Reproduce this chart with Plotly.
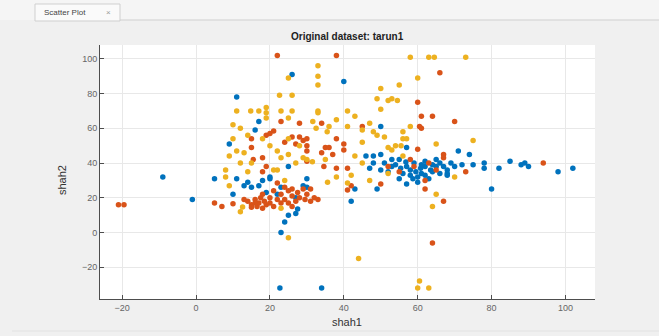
import plotly.graph_objects as go

# ---------------- data ----------------
blue_x = [-9, -1, 5, 11, 13, 17, 20, 25, 30, 30, 15, 10, 23, 20, 11, 26, 40, 9, 17, 16,
          27.5, 27, 25, 24, 23, 22.7, 34, 42, 43, 50, 57, 71, 74, 46, 48, 50, 48, 49, 80, 98,
          102, 88, 89, 90, 85, 82, 78, 78, 75, 72, 70, 67, 65, 54, 55.4, 56.8, 58, 59.5, 60.8, 62,
          63.5, 65, 58.7, 55, 52, 53, 29, 57, 59, 61, 62, 63, 64, 66, 68, 60, 61, 56, 53, 51,
          47, 58, 62, 64, 66, 60, 57, 68, 69, 55, 50, 22, 19, 27, 14, 18, 68]
blue_y = [32, 19, 31, 31, 27, 27, 31, 38, 31, 26, 26, 22, 26, 32, 78, 91, 87, 51, 64, 59,
          13.5, 11, 10, 6, 0, -32, -32, 18, 25, 61, 49, 47, 45, 44, 44, 45, 40, 25, 25, 35,
          37, 39, 40, 38, 41, 37, 40, 37, 39, 39, 38, 38, 42, 39, 37, 40.6, 36, 35, 37, 33,
          36, 38, 31, 31, 35, 42, 27, 38, 40, 34, 38, 31, 35, 34, 36, 32, 39, 34, 38, 40,
          37, 33, 41, 39, 40, 29, 28, 33, 40, 42, 36, 22, 23, 20, 29, 30, 34]

orange_x = [-21, -19.5, 22, 38, 66, 60, 61, 64, 70, 61, 60, 67, 67, 23, 28, 34, 45, 20, 19, 21,
            15, 15, 24, 26, 28, 29, 30, 30, 27, 18, 34, 35, 38, 40, 40, 37, 30, 15.5, 19, 18,
            5, 7, 10, 14, 15, 16, 16.5, 17, 18, 18.5, 19, 15, 17.5, 13, 20, 21, 23, 24, 25, 26,
            27, 27.5, 28, 29, 29.5, 30, 31, 32, 33, 25, 22, 26, 24, 22, 62, 67, 64, 94, 73, 55,
            58, 62, 50, 52, 63, 36, 34.6, 38, 41, 42, 41, 30, 60.5, 59, 65, 21, 31, 18, 20, 16,
            23, 26]
orange_y = [16, 16, 102, 102, 92, 75, 67, 67, 64, 60, 48, 45, 43, 64, 63, 63, 61, 57, 56, 58.5,
            54, 49, 52, 55, 55, 53, 50, 47, 51, 43, 46, 49, 54, 51, 47.5, 45, 41, 42, 38, 35,
            17, 15, 16.5, 18, 16, 19, 15, 17, 14, 18, 16, 14.5, 20, 19, 17, 15, 22, 19, 24, 21,
            18, 23, 20, 25, 19, 22, 18, 20, 19, 17, 19, 25, 26, 28.5, 25, 18, -6, 40, 35, 35,
            42, 30, 28, 38, 40, 49, 38, 37, 37, 27, 24.5, 54, 61, 38, 36, 24, 25, 22, 20, 17,
            17, 15]

yellow_x = [58, 63, 64.5, 73, 25, 33, 33, 33, 22.6, 26, 60, 55, 50, 52, 53, 54.5, 49, 50, 58, 56,
            51, 45, 48, 57, 75, 65, 52, 54, 11, 14.8, 17, 19, 19, 19, 23, 26, 33, 41, 10, 25,
            31.6, 32.5, 38, 43, 41, 18, 14, 10, 11, 28, 23, 25, 43, 29, 9, 15, 12, 21, 8, 9,
            14, 12, 25, 44, 65, 64, 60.5, 60, 63, 70, 25, 30, 31.5, 22, 23, 12.6, 47, 35.5, 49, 56,
            53, 55.5, 45, 42, 35.6, 41, 33, 22, 27, 35, 12, 8, 38, 45, 36, 20, 13, 52, 56, 47, 24]
yellow_y = [101, 101, 101, 101, 89, 96, 90, 85, 79, 79, 89, 85, 83, 76, 77, 76, 77, 71, 61, 58,
            55, 59, 58, 54, 53, 51, 49, 50, 70, 70, 70, 72, 69, 66, 70, 70, 70, 70, 62, 66,
            64, 60, 65, 67, 61, 54, 56, 54, 47, 50, 43, 45, 44, 43, 44, 40, 40, 36, 32, 27,
            35, 12, -3, -15, 22, 15, -28, -32, -32, 32, 54, 42, 40.7, 36, 14, 14.7, 63, 58, 56, 54,
            47.5, 50, 40, 33, 29, 28.5, 69, 47, 40, 42, 60, 36, 32, 52, 61, 50, 46, 34, 44, 30, 30]

series = [("blue", blue_x, blue_y, "#0072BD"),
          ("orange", orange_x, orange_y, "#D95319"),
          ("yellow", yellow_x, yellow_y, "#EDB120")]

x_ticks = [-20, 0, 20, 40, 60, 80, 100]
y_ticks = [-20, 0, 20, 40, 60, 80, 100]

# ---------------- layout helpers ----------------
W, H = 659, 336
L, R, T, B = 100, 595, 45, 299   # plot area in pixels


def px(x):
    return (x - L) / (R - L)


def py(y):
    return (B - y) / (B - T)


fig = go.Figure()
for name, xs, ys, col in series:
    fig.add_trace(go.Scatter(x=xs, y=ys, mode="markers", name=name,
                             marker=dict(color=col, size=5.5, line=dict(width=0)),
                             showlegend=False))

font = "Liberation Sans, Arial, sans-serif"
axis_common = dict(showgrid=True, gridcolor="#e8e8e8", gridwidth=1, zeroline=False,
                   showline=True, linecolor="#4d4d4d", linewidth=1,
                   ticks="inside", ticklen=4, tickcolor="#4d4d4d",
                   tickfont=dict(family=font, size=9, color="#666666"))

fig.update_layout(
    width=W, height=H,
    margin=dict(l=L, r=W - R, t=T, b=H - B, pad=0),
    paper_bgcolor="#f0f0f0", plot_bgcolor="#ffffff",
    xaxis=dict(range=[-26, 108], tickvals=x_ticks, **axis_common),
    yaxis=dict(range=[-38.3, 108], tickvals=y_ticks, **axis_common),
    shapes=[
        # top tab strip
        dict(type="rect", xref="paper", yref="paper", x0=px(0), x1=px(W), y0=py(20), y1=py(0),
             fillcolor="#f5f5f5", line=dict(width=0), layer="below"),
        dict(type="line", xref="paper", yref="paper", x0=px(120), x1=px(W), y0=py(20), y1=py(20),
             line=dict(color="#cfcfcf", width=1)),
        dict(type="rect", xref="paper", yref="paper", x0=px(35), x1=px(120), y0=py(21), y1=py(4),
             fillcolor="#fafafa", line=dict(color="#cfcfcf", width=1)),
        dict(type="line", xref="paper", yref="paper", x0=px(12), x1=px(W), y0=py(331), y1=py(331),
             line=dict(color="#e2e2e2", width=1)),
    ],
    annotations=[
        dict(text="Scatter Plot", xref="paper", yref="paper", x=px(42), y=py(12),
             xanchor="left", yanchor="middle", showarrow=False,
             font=dict(family=font, size=8, color="#444444")),
        dict(text="×", xref="paper", yref="paper", x=px(108), y=py(12),
             xanchor="center", yanchor="middle", showarrow=False,
             font=dict(family=font, size=8, color="#999999")),
        dict(text="<b>Original dataset: tarun1</b>", xref="paper", yref="paper",
             x=px(347), y=py(36), xanchor="center", yanchor="middle", showarrow=False,
             font=dict(family=font, size=10, color="#222222")),
        dict(text="shah1", xref="paper", yref="paper", x=px(347), y=py(322),
             xanchor="center", yanchor="middle", showarrow=False,
             font=dict(family=font, size=11, color="#333333")),
        dict(text="shah2", xref="paper", yref="paper", x=px(62), y=py(180),
             xanchor="center", yanchor="middle", showarrow=False, textangle=-90,
             font=dict(family=font, size=11, color="#333333")),
    ],
)

fig.write_html("out.html",
               config={"displayModeBar": False},
               post_script="document.body.style.margin='0';document.body.style.overflow='hidden';")
